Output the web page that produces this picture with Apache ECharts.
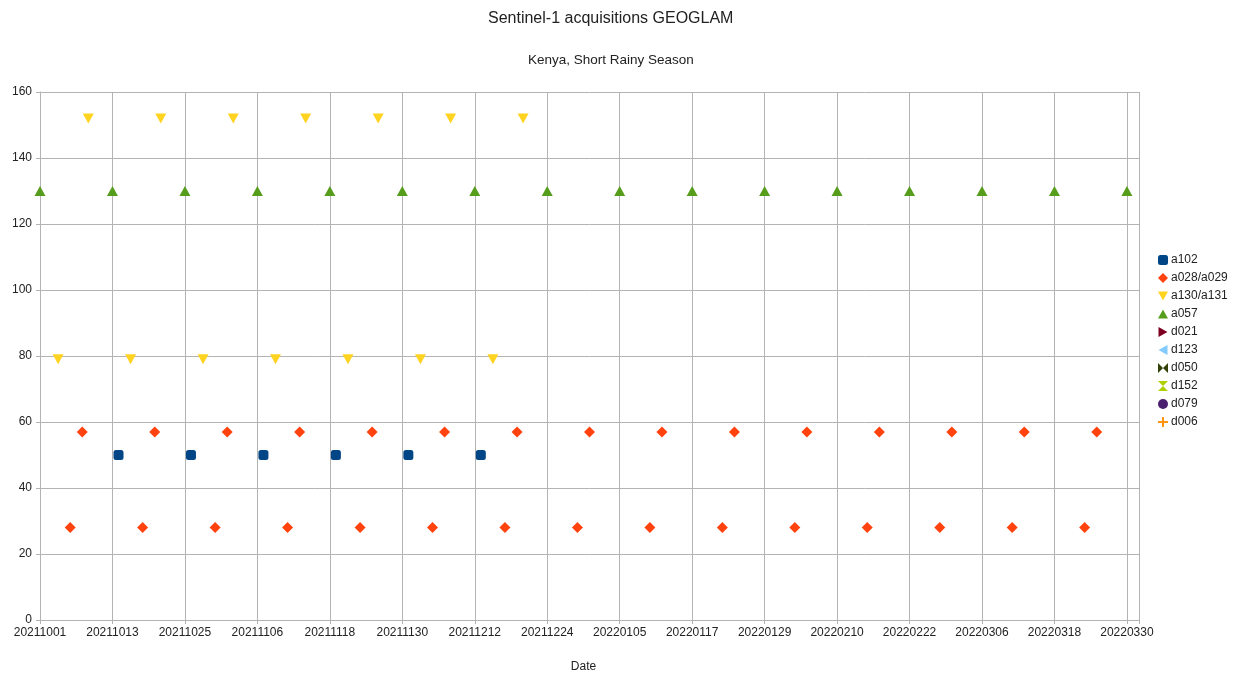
<!DOCTYPE html>
<html>
<head>
<meta charset="utf-8">
<script src="https://cdn.jsdelivr.net/npm/echarts@6/dist/echarts.min.js"></script>
<style>html,body{margin:0;padding:0;background:#fff}#c{width:1234px;height:673px}</style>
</head>
<body>
<div id="c"></div>
<script>
// ---- data (dates as yyyymmdd) ----
const tickLabels = ['20211001','20211013','20211025','20211106','20211118','20211130','20211212','20211224',
  '20220105','20220117','20220129','20220210','20220222','20220306','20220318','20220330'];
const axisEndDate = '20220401';

const a102Dates = ['20211014','20211026','20211107','20211119','20211201','20211213'];
const a102Values = [50,50,50,50,50,50];

const a028Dates = ['20211006','20211018','20211030','20211111','20211123','20211205','20211217','20211229',
  '20220110','20220122','20220203','20220215','20220227','20220311','20220323',
  '20211008','20211020','20211101','20211113','20211125','20211207','20211219','20211231',
  '20220112','20220124','20220205','20220217','20220301','20220313','20220325'];
const a028Values = [28,28,28,28,28,28,28,28,28,28,28,28,28,28,28,
  57,57,57,57,57,57,57,57,57,57,57,57,57,57,57];

const a130Dates = ['20211004','20211016','20211028','20211109','20211121','20211203','20211215',
  '20211009','20211021','20211102','20211114','20211126','20211208','20211220'];
const a130Values = [79,79,79,79,79,79,79,152,152,152,152,152,152,152];

const a057Dates = ['20211001','20211013','20211025','20211106','20211118','20211130','20211212','20211224',
  '20220105','20220117','20220129','20220210','20220222','20220306','20220318','20220330'];
const a057Values = [130,130,130,130,130,130,130,130,130,130,130,130,130,130,130,130];

const emptySeriesNames = ['d021','d123','d050','d152','d079','d006'];

const titleText = 'Sentinel-1 acquisitions GEOGLAM';
const subtitleText = 'Kenya, Short Rainy Season';

// ---- helpers ----
const DAY = 86400000;
function ymd(s){ return Date.UTC(+s.slice(0,4), +s.slice(4,6)-1, +s.slice(6,8)); }
const origin = ymd(tickLabels[0]);
function toDay(s){ return Math.round((ymd(s) - origin) / DAY); }
function pairs(dates, vals){ return dates.map((d,i)=>[toDay(d), vals[i]]); }
const labelByDay = {};
tickLabels.forEach(t => { labelByDay[toDay(t)] = t; });

const FONT = 'Liberation Sans';
const mctx = document.createElement('canvas').getContext('2d');
function textW(t, size){ mctx.font = size + 'px "' + FONT + '"'; return mctx.measureText(t).width; }
const TITLE_CX = 611;

const symbols = {
  a102: {symbol:'roundRect', color:'#004586', size:10},
  'a028/a029': {symbol:'diamond', color:'#ff420e', size:11},
  'a130/a131': {symbol:'path://M0,0 L10,0 L5,9 Z', color:'#ffd320', size:[11,10]},
  a057: {symbol:'path://M5,0 L10,9 L0,9 Z', color:'#579d1c', size:[11,10]},
  d021: {symbol:'path://M0,0 L9,5 L0,10 Z', color:'#7e0021', size:10},
  d123: {symbol:'path://M9,0 L0,5 L9,10 Z', color:'#83caff', size:10},
  d050: {symbol:'path://M0,0 L10,10 L10,0 L0,10 Z', color:'#314004', size:10},
  d152: {symbol:'path://M0,0 L10,0 L0,10 L10,10 Z', color:'#aecf00', size:10},
  d079: {symbol:'circle', color:'#4b1f6f', size:10},
  d006: {symbol:'path://M4,0 H6 V4 H10 V6 H6 V10 H4 V6 H0 V4 H4 Z', color:'#ff950e', size:10}
};
function mk(name, data){
  const s = symbols[name];
  return {name, type:'scatter', data, symbol:s.symbol, symbolSize:s.size,
    itemStyle:{color:s.color, opacity:1}, emphasis:{disabled:true}};
}
const series = [
  mk('a102', pairs(a102Dates, a102Values)),
  mk('a028/a029', pairs(a028Dates, a028Values)),
  mk('a130/a131', pairs(a130Dates, a130Values)),
  mk('a057', pairs(a057Dates, a057Values))
].concat(emptySeriesNames.map(n => mk(n, [])));

const chart = echarts.init(document.getElementById('c'), null, {renderer:'canvas'});
chart.setOption({
  animation:false,
  backgroundColor:'#fff',
  textStyle:{fontFamily:FONT},
  title:[
    {text:titleText, left:Math.round(TITLE_CX - textW(titleText,16)/2), top:11, padding:0,
      textStyle:{fontFamily:FONT, fontSize:16, fontWeight:'normal', color:'#222'}},
    {text:subtitleText, left:Math.round(TITLE_CX - textW(subtitleText,13.5)/2), top:53, padding:0,
      textStyle:{fontFamily:FONT, fontSize:13.5, fontWeight:'normal', color:'#222'}}
  ],
  legend:{
    orient:'vertical', left:1153, top:248, itemWidth:10, itemHeight:10, itemGap:4,
    data: series.map(s=>({name:s.name, icon:s.symbol})),
    textStyle:{fontFamily:FONT, fontSize:12, color:'#222', padding:[0,0,0,-2], lineHeight:14}
  },
  grid:{left:40, right:95, top:92, bottom:53, containLabel:false, outerBoundsMode:'none'},
  xAxis:{
    type:'value', min:0, max:toDay(axisEndDate), interval:12,
    name:'Date', nameLocation:'middle', nameGap:41,
    nameTextStyle:{fontFamily:FONT, fontSize:12, color:'#222', padding:[0,12,0,0]},
    axisLine:{show:true, onZero:false, lineStyle:{color:'#b3b3b3'}},
    axisTick:{show:true, length:4, lineStyle:{color:'#b3b3b3'}},
    splitLine:{show:true, lineStyle:{color:'#b3b3b3', width:1}},
    axisLabel:{fontFamily:FONT, fontSize:12, color:'#222', margin:7, showMinLabel:true, showMaxLabel:true,
      hideOverlap:false, formatter: v => labelByDay[v] || ''}
  },
  yAxis:{
    type:'value', min:0, max:160, interval:20,
    axisLine:{show:true, lineStyle:{color:'#b3b3b3'}},
    axisTick:{show:true, length:4, lineStyle:{color:'#b3b3b3'}},
    splitLine:{show:true, lineStyle:{color:'#b3b3b3', width:1}},
    axisLabel:{fontFamily:FONT, fontSize:12, color:'#222', margin:8}
  },
  series
});
</script>
</body>
</html>
